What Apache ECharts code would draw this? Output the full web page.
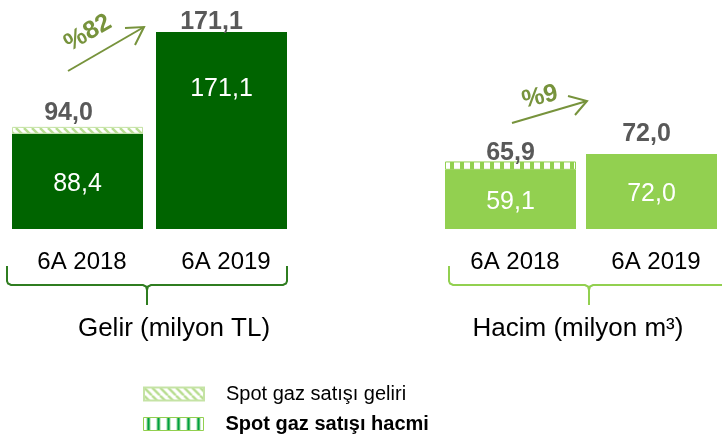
<!DOCTYPE html>
<html>
<head>
<meta charset="utf-8">
<script src="https://cdn.jsdelivr.net/npm/echarts@6/dist/echarts.min.js"></script>
<style>
  html, body { margin: 0; padding: 0; background: #fff; }
  #chart { width: 722px; height: 439px; }
</style>
</head>
<body>
<div id="chart"></div>
<script>
// Kategoriler ve değerler
const kategoriler = ['6A 2018', '6A 2019'];
const gelirToplam = [94.0, 171.1];   // üstteki toplam
const gelirBoru = [88.4, 171.1];     // koyu yeşil kısım
const hacimToplam = [65.9, 72.0];
const hacimBoru = [59.1, 72.0];

const FONT = '"Liberation Sans", Arial, sans-serif';
const KOYU = '#006400';
const ACIK = '#92D050';
const OK_RENK = '#77933C';

const fmt = v => Number(v).toFixed(1).replace('.', ',');
const fark = (t, b) => t.map((v, i) => {
    const d = +(v - b[i]).toFixed(1);
    return d > 0 ? d : '-';
});

// desen (pattern) yardımcıları
function desen(w, h, ciz) {
    const c = document.createElement('canvas');
    c.width = w; c.height = h;
    const ctx = c.getContext('2d');
    ctx.fillStyle = '#fff';
    ctx.fillRect(0, 0, w, h);
    ciz(ctx);
    return { image: c, repeat: 'repeat' };
}
const capraz = desen(8, 8, ctx => {
    ctx.strokeStyle = '#b9de92';
    ctx.lineWidth = 2.5;
    [-8, 0, 8].forEach(o => {
        ctx.beginPath();
        ctx.moveTo(o, 0);
        ctx.lineTo(o + 8, 8);
        ctx.stroke();
    });
});
const dikey = desen(10, 10, ctx => {
    ctx.fillStyle = ACIK;
    ctx.fillRect(0, 0, 4, 10);
});
const dikeyLejant = desen(10, 10, ctx => {
    ctx.fillStyle = '#9ad89a';
    ctx.fillRect(3, 0, 4, 10);
    ctx.fillStyle = '#00a040';
    ctx.fillRect(4, 0, 2, 10);
});

// üst etiket ayarları (mesafe, kaydırma)
const ustEtiket = {
    gelir: [{ distance: 1, offset: [-9, 0] }, { distance: -3, offset: [-10, 0] }],
    hacim: [{ distance: -4, offset: [0, 0] }, { distance: 7, offset: [-5, 0] }]
};

function seriler(idx, boru, toplam, renk, desenRenk, desenKenar, desenAdi, ust) {
    return [
        {
            type: 'bar', xAxisIndex: idx, yAxisIndex: idx, stack: 's' + idx,
            barWidth: 131, barGap: '-100%',
            data: boru.map((v, i) => (idx === 0 && i === 1)
                ? { value: v, label: { position: 'insideTop', distance: 45, offset: [0, 0] } }
                : v),
            itemStyle: { color: renk },
            label: {
                show: true, position: 'inside', color: '#fff', offset: [0, 3],
                fontSize: 25, fontFamily: FONT, formatter: p => fmt(p.value)
            },
            silent: true
        },
        {
            name: desenAdi,
            type: 'bar', xAxisIndex: idx, yAxisIndex: idx, stack: 's' + idx,
            barWidth: 131,
            data: fark(toplam, boru),
            itemStyle: { color: desenRenk, borderColor: desenKenar, borderWidth: 1 },
            silent: true
        },
        {
            type: 'bar', xAxisIndex: idx, yAxisIndex: idx,
            barWidth: 131, barGap: '-100%',
            data: toplam.map((v, i) => ({ value: v, label: ust[i] })),
            itemStyle: { color: 'rgba(0,0,0,0)' },
            label: {
                show: true, position: 'top', color: '#595959',
                fontSize: 25, fontWeight: 'bold', fontFamily: FONT,
                formatter: p => fmt(p.value)
            },
            silent: true
        }
    ];
}

function kume(cx, renk) {
    // süslü parantez
    const l = cx - 140, r = cx + 140;
    const st = { stroke: renk, lineWidth: 2, fill: null };
    return [
        { type: 'polyline', shape: { points: [[l, 266], [l, 281], [l + 1, 283.5], [l + 4, 285], [cx - 4, 285], [cx - 1, 286.5], [cx, 290], [cx, 305]] }, style: st },
        { type: 'polyline', shape: { points: [[cx, 290], [cx + 1, 286.5], [cx + 4, 285], [r - 4, 285], [r - 1, 283.5], [r, 281], [r, 266]] }, style: st }
    ];
}

function ok(x1, y1, x2, y2, h1, h2) {
    return [
        { type: 'polyline', shape: { points: [[x1, y1], [x2, y2]] }, style: { stroke: OK_RENK, lineWidth: 2 } },
        { type: 'polyline', shape: { points: [h1, [x2, y2], h2] }, style: { stroke: OK_RENK, lineWidth: 2, fill: null } }
    ];
}

const chart = echarts.init(document.getElementById('chart'));

const eksenX = (idx) => ({
    type: 'category', gridIndex: idx, data: kategoriler,
    axisLine: { show: false }, axisTick: { show: false },
    axisLabel: { fontSize: 24, color: '#000', fontFamily: FONT, margin: 21, padding: [0, 0, 0, 9] }
});
const eksenY = (idx) => ({ type: 'value', gridIndex: idx, show: false, min: 11, max: 171.1 });

const lejant = (ad, kalin, ust, ekstra) => ({
    left: 143, top: ust, padding: 0,
    icon: 'rect', itemWidth: 60, itemHeight: 13,
    selectedMode: false,
    textStyle: { fontSize: 20, color: '#000', fontFamily: FONT, padding: [0, 0, 0, 17], fontWeight: kalin ? 'bold' : 'normal' },
    data: [Object.assign({ name: ad }, ekstra || {})]
});

const option = {
    animation: false,
    backgroundColor: '#fff',
    textStyle: { fontFamily: FONT },
    grid: [
        { left: 5.5, width: 288, top: 32, height: 197 },
        { left: 440, width: 289, top: 32, height: 197 }
    ],
    xAxis: [eksenX(0), eksenX(1)],
    yAxis: [eksenY(0), eksenY(1)],
    legend: [
        lejant('Spot gaz satışı geliri', false, 384),
        lejant('Spot gaz satışı hacmi', true, 414,
            { itemStyle: { color: dikeyLejant, borderColor: ACIK, borderWidth: 1 } })
    ],
    series: [
        ...seriler(0, gelirBoru, gelirToplam, KOYU, capraz, '#c5e3a5', 'Spot gaz satışı geliri', ustEtiket.gelir),
        ...seriler(1, hacimBoru, hacimToplam, ACIK, dikey, ACIK, 'Spot gaz satışı hacmi', ustEtiket.hacim)
    ],
    graphic: [
        ...kume(147, '#2f7d20'),
        ...kume(589, ACIK),
        ...ok(68, 71, 144, 27, [125, 28], [135, 45]),
        ...ok(512, 123, 587, 101, [568, 96], [575, 115]),
        {
            type: 'text', x: 88, y: 33, rotation: 30 * Math.PI / 180,
            style: { text: '%82', font: `bold 25px ${FONT}`, fill: OK_RENK, align: 'center', verticalAlign: 'middle' }
        },
        {
            type: 'text', x: 540, y: 97, rotation: 13 * Math.PI / 180,
            style: { text: '%9', font: `bold 25px ${FONT}`, fill: OK_RENK, align: 'center', verticalAlign: 'middle' }
        },
        {
            type: 'text', x: 174, y: 329,
            style: { text: 'Gelir (milyon TL)', font: `26px ${FONT}`, fill: '#000', align: 'center', verticalAlign: 'middle' }
        },
        {
            type: 'text', x: 578, y: 329,
            style: { text: 'Hacim (milyon m³)', font: `26px ${FONT}`, fill: '#000', align: 'center', verticalAlign: 'middle' }
        }
    ]
};

chart.setOption(option);
</script>
</body>
</html>
